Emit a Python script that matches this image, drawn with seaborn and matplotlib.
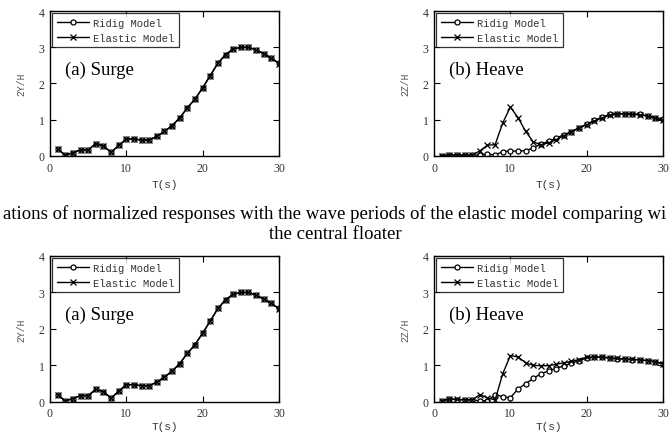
import matplotlib
matplotlib.use("Agg")
import matplotlib.pyplot as plt
import seaborn as sns
import numpy as np

T = list(range(1, 31))

surge_rigid = [0.20, 0.02, 0.09, 0.17, 0.17, 0.34, 0.28, 0.10, 0.29, 0.47,
               0.47, 0.44, 0.44, 0.54, 0.68, 0.84, 1.05, 1.33, 1.57, 1.88,
               2.22, 2.56, 2.80, 2.95, 3.00, 3.00, 2.93, 2.82, 2.70, 2.56]
surge_elastic = [0.20, 0.02, 0.09, 0.17, 0.17, 0.34, 0.28, 0.10, 0.29, 0.47,
                 0.47, 0.44, 0.44, 0.54, 0.68, 0.84, 1.05, 1.33, 1.57, 1.88,
                 2.22, 2.56, 2.80, 2.95, 3.00, 3.00, 2.92, 2.82, 2.70, 2.55]

heave1_rigid = [0.00, 0.03, 0.03, 0.02, 0.02, 0.03, 0.05, 0.03, 0.12, 0.14,
                0.13, 0.15, 0.22, 0.33, 0.40, 0.49, 0.59, 0.67, 0.78, 0.88,
                0.98, 1.07, 1.15, 1.17, 1.17, 1.17, 1.15, 1.11, 1.06, 1.02]
heave1_elastic = [0.00, 0.03, 0.03, 0.02, 0.03, 0.14, 0.30, 0.31, 0.91, 1.35,
                  1.06, 0.68, 0.39, 0.31, 0.36, 0.45, 0.56, 0.67, 0.77, 0.86,
                  0.96, 1.05, 1.12, 1.16, 1.16, 1.15, 1.13, 1.10, 1.04, 0.98]

heave2_rigid = [0.02, 0.08, 0.06, 0.05, 0.05, 0.03, 0.03, 0.20, 0.14, 0.11,
                0.35, 0.50, 0.64, 0.77, 0.85, 0.91, 0.99, 1.06, 1.13, 1.20,
                1.23, 1.22, 1.20, 1.18, 1.17, 1.16, 1.15, 1.13, 1.09, 1.04]
heave2_elastic = [0.02, 0.08, 0.07, 0.06, 0.05, 0.20, 0.11, 0.05, 0.77, 1.27,
                  1.23, 1.07, 1.00, 0.99, 0.99, 1.03, 1.07, 1.11, 1.16, 1.22,
                  1.23, 1.23, 1.21, 1.19, 1.18, 1.17, 1.15, 1.13, 1.10, 1.05]

xticks = [0, 10, 20, 30]
yticks = [0, 1, 2, 3, 4]
caption1 = "ations of normalized responses with the wave periods of the elastic model comparing wi"
caption2 = "the central floater"

sns.set_style("ticks")
plt.rcParams['font.family'] = ['Liberation Serif', 'DejaVu Serif']

fig = plt.figure(figsize=(6.70, 4.35), dpi=100)

panels = [
    ([0.0746, 0.6391, 0.3418, 0.3333], surge_rigid, surge_elastic, "2Y/H", "(a) Surge", 4),
    ([0.6478, 0.6391, 0.3418, 0.3333], heave1_rigid, heave1_elastic, "2Z/H", "(b) Heave", 4),
    ([0.0746, 0.0740, 0.3418, 0.3352], surge_rigid, surge_elastic, "2Y/H", "(a) Surge", 1.5),
    ([0.6478, 0.0740, 0.3418, 0.3352], heave2_rigid, heave2_elastic, "2Z/H", "(b) Heave", 1.5),
]

mono = 'Liberation Mono'
for rect, rig, ela, ylab, title, xpad in panels:
    ax = fig.add_axes(rect)
    sns.lineplot(x=T, y=rig, ax=ax, color='black', lw=1.0, marker='o', ms=3.6,
                 mfc='white', mec='black', mew=0.9, label='Ridig Model')
    sns.lineplot(x=T, y=ela, ax=ax, color='black', lw=1.0, marker='x', ms=3.8,
                 mec='black', mew=0.9, label='Elastic Model')
    ax.set_xlim(0, 30)
    ax.set_ylim(0, 4)
    ax.set_xticks(xticks)
    ax.set_yticks(yticks)
    ax.tick_params(direction='in', top=True, right=True, length=4, width=0.8,
                   labelsize=8.5, colors='black', pad=4)
    for lbl in ax.get_xticklabels() + ax.get_yticklabels():
        lbl.set_color('#333333')
    for s in ax.spines.values():
        s.set_linewidth(1.0)
        s.set_color('black')
    ax.set_xlabel("T(s)", family=mono, fontsize=8, color='#333333', labelpad=xpad)
    ax.set_ylabel(ylab, family=mono, fontsize=7, color='#555555', labelpad=9)
    leg = ax.legend(loc='upper left', prop={'family': mono, 'size': 7.6},
                    frameon=True, fancybox=False, edgecolor='black',
                    handlelength=3.0, handletextpad=0.4, borderpad=0.45,
                    labelspacing=0.45, borderaxespad=0.2)
    leg.get_frame().set_linewidth(0.9)
    for t in leg.get_texts():
        t.set_color('#333333')
    ax.text(0.066, 0.60, title, transform=ax.transAxes, fontsize=13.5,
            family='Liberation Serif', color='black', va='center', ha='left')

fig.text(0.5, 1 - 214 / 435, caption1, ha='center', va='center', fontsize=13.5,
         family='Liberation Serif', color='black')
fig.text(0.5, 1 - 235 / 435, caption2, ha='center', va='center', fontsize=13.5,
         family='Liberation Serif', color='black')

fig.savefig("out.png", dpi=100)
